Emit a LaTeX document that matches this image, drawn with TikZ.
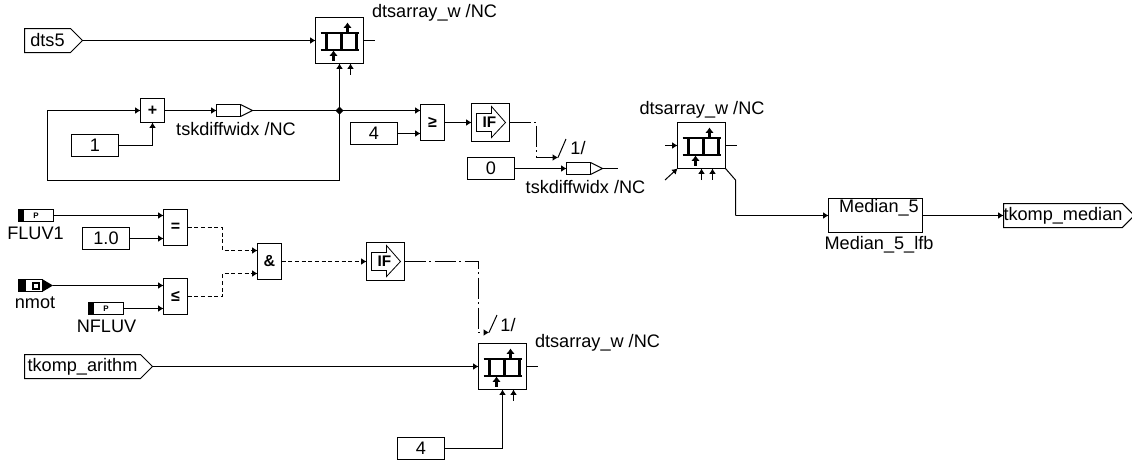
\documentclass[tikz,border=0pt]{standalone}
\usepackage{fontspec}
\setmainfont{Liberation Sans}
\usetikzlibrary{arrows.meta,shapes.symbols,positioning,calc}
\tikzset{
  every node/.append style={outer sep=0pt},
  wire/.style={line width=0.75pt},
  sig/.style={wire,-{Latex[length=4pt,width=5pt]}},
  ctrl/.style={line width=0.75pt,dash pattern=on 16pt off 2.5pt on 1.5pt off 2.5pt,-{Latex[length=4pt,width=5pt]}},
  logic/.style={line width=0.75pt,dash pattern=on 3pt off 2pt,-{Latex[length=4pt,width=5pt]}},
  lbl/.style={font=\fontsize{13.6}{15}\selectfont,inner sep=0pt},
  constbox/.style={draw,line width=0.75pt,inner sep=0pt,anchor=north west,minimum width=35.25pt,minimum height=16.5pt,font=\fontsize{13.6}{15}\selectfont},
  opbox/.style={draw,line width=0.75pt,inner sep=0pt,anchor=north west,minimum width=18pt,minimum height=27pt,font=\fontsize{12}{13}\selectfont\bfseries},
  portbox/.style={draw,line width=0.75pt,signal,signal to=east,signal from=nowhere,signal pointer angle=90,inner sep=0pt,anchor=west,minimum height=18pt,font=\fontsize{13.6}{15}\selectfont},
}
\begin{document}
\begin{tikzpicture}[x=0.75pt,y=-0.75pt]
\useasboundingbox (0,0) rectangle (1132,461);
% array blocks
\foreach \n/\x/\y in {arra/315.5/17.5,arrb/677.5/122.5,arrc/478.5/343.5} {
  \node[draw,line width=0.75pt,inner sep=0pt,anchor=north west,minimum width=36pt,minimum height=34.5pt] (\n) at (\x,\y) {};
  \begin{scope}[shift={(\x,\y)}]
    \draw[line width=1.5pt] (5,15) -- (43,15) (5,32) -- (43,32);
    \draw[line width=1.9pt] (11,15) -- (11,32) (26,15) -- (26,32) (41,15) -- (41,32);
    \draw[line width=1.6pt,-{Latex[length=4pt,width=6.5pt]}] (32,15) -- (32,5);
    \draw[line width=1.6pt,-{Latex[length=4pt,width=6.5pt]}] (18,43) -- (18,33);
  \end{scope}
  \coordinate (\n-out) at ($(\n.east)+(11,0)$);
  \coordinate (\n-stub) at ($(\n.south)+(11,11)$);
  \draw[wire] (\n.east) -- (\n-out);
  \draw[sig] (\n-stub) -- (\n-stub |- \n.south);
}
% IF blocks
\foreach \n/\x/\y in {ifa/471.5/103.5,ifb/366.5/242.5} {
  \node[draw,line width=0.75pt,inner sep=0pt,anchor=north west,minimum width=28.5pt,minimum height=28.5pt] (\n) at (\x,\y) {};
  \begin{scope}[shift={(\x,\y)}]
    \draw[line width=0.6pt] (5,10) -- (20,10) -- (20,3) -- (34,19) -- (20,34) -- (20,28) -- (5,28) -- cycle;
    \node[font=\fontsize{11.5}{12}\selectfont\bfseries,inner sep=0pt] (\n-txt) at (18,19) {IF};
  \end{scope}
}
% tunable parameters
\foreach \n/\x/\y in {fluv/18.5/209.5,nfluv/88.5/302.5} {
  \node[draw,line width=0.75pt,inner sep=0pt,anchor=north west,minimum width=26.25pt,minimum height=9pt,font=\fontsize{6}{6}\selectfont\bfseries] (\n) at (\x,\y) {P};
  \fill (\x,\y) rectangle ++(5,12);
}
\node[lbl] (fluvlbl) at (35.5,233) {FLUV1};
\node[lbl] (nfluvlbl) at (106.5,326) {NFLUV};
% measured input
\node[draw,line width=0.75pt,inner sep=0pt,anchor=north west,minimum width=18pt,minimum height=9pt] (nmot) at (18.5,279.5) {};
\fill (18.5,279.5) rectangle ++(7,12);
\fill (42,279) -- (53,285.5) -- (42,292) -- cycle;
\fill (32,281.5) rectangle ++(8,8);
\fill[white] (34,283.5) rectangle ++(4,4);
\coordinate (nmottip) at (53,285.5);
\node[lbl] (nmotlbl) at (35,303) {nmot};
% ports
\node[portbox,minimum width=43.5pt] (dtsfive) at (24.5,40.5) {dts5};
\node[portbox,minimum width=96pt] (arithm) at (24.5,366.5) {tkomp\_arithm};
\node[portbox,minimum width=90pt] (median) at (1003.5,215.5) {tkomp\_median};
% constants
\node[constbox] (cone) at (71.5,134.5) {1};
\node[constbox] (cfour) at (350.5,122.5) {4};
\node[constbox] (czero) at (467.5,157.5) {0};
\node[constbox] (cval) at (82.5,227.5) {1.0};
\node[constbox] (cfourb) at (397.5,437.5) {4};
% operators
\node[opbox,minimum height=18pt] (sum) at (140.5,98.5) {+};
\node[opbox] (geq) at (420.5,104.5) {≥};
\node[opbox] (eq) at (163.5,209.5) {=};
\node[opbox] (leq) at (163.5,278.5) {≤};
\node[opbox] (andop) at (257.5,243.5) {\&};
% variable writes
\foreach \n/\x/\y in {vara/216.5/104.5,varb/566.5/162.5} {
  \node[draw,line width=0.75pt,inner sep=0pt,anchor=north west,minimum width=18pt,minimum height=9pt] (\n) at (\x,\y) {};
  \coordinate (\n-tip) at ($(\n.east)+(12,0)$);
  \draw[wire] (\n.north east) -- (\n-tip) -- (\n.south east);
}
% median block
\node[draw,line width=0.75pt,inner sep=0pt,anchor=north west,minimum width=70.5pt,minimum height=25.5pt] (medbox) at (828.5,198.5) {};
\node[lbl] (medtxt) at (879,208) {Median\_5};
\node[lbl] (medlbl) at (879,245) {Median\_5\_lfb};
% labels
\node[lbl] (lbla) at (434.5,13) {dtsarray\_w /NC};
\node[lbl] (lblb) at (702,110) {dtsarray\_w /NC};
\node[lbl] (lblc) at (597.5,343) {dtsarray\_w /NC};
\node[lbl] (lblva) at (236,129) {tskdiffwidx /NC};
\node[lbl] (lblvb) at (585.5,187) {tskdiffwidx /NC};
% top row
\coordinate (junc) at (339.5,110.5);
\fill (junc) ++(-4,0) -- ++(4,-4) -- ++(4,4) -- ++(-4,4) -- cycle;
\draw[sig] (dtsfive.east) -- (dtsfive.east -| arra.west);
\draw[sig] (junc) -- (junc |- arra.south);
\draw[sig] (sum.east) -- (vara.west);
\draw[wire] (vara-tip) -- (junc);
\draw[sig] (junc) -- (junc -| geq.west);
\draw[sig] (junc) -- (339.5,180.5) -| (47.5,110.5) -- (sum.west);
\draw[sig] (cone.east) -| (sum.south);
\draw[sig] (cfour.east) -- (cfour.east -| geq.west);
\draw[sig] (geq.east) -- (geq.east -| ifa.west);
\coordinate (ena) at (558,157.5);
\coordinate (enatop) at (566,139);
\draw[ctrl] (ifa.east) -- ++(27,0) |- (ena);
\draw[wire] (ena) -- (enatop);
\node[lbl] (enalbl) at (578,148) {1/};
\draw[sig] (czero.east) -- (varb.west);
\coordinate (varbend) at (618,168.5);
\draw[wire] (varb-tip) -- (varbend);
% second array block and median
\coordinate (arrbin) at (665,145.5);
\coordinate (arrbdiag) at (665,180);
\draw[sig] (arrbin) -- (arrbin -| arrb.west);
\draw[sig] (arrbdiag) -- (arrb.south west);
\coordinate (arrbstubb) at (701.5,180);
\draw[sig] (arrbstubb) -- (arrbstubb |- arrb.south);
\draw[wire] (arrb.south east) -- (735.5,180) -- (735.5,215.5);
\draw[sig] (735.5,215.5) -- (medbox.west);
\draw[sig] (medbox.east) -- (medbox.east -| median.west);
% lower row
\draw[sig] (fluv.east) -- (fluv.east -| eq.west);
\draw[sig] (cval.east) -- (cval.east -| eq.west);
\draw[sig] (nmottip) -- (nmottip -| leq.west);
\draw[sig] (nfluv.east) -- (nfluv.east -| leq.west);
\coordinate (anda) at (257.5,250.5);
\coordinate (andb) at (257.5,273.5);
\draw[logic] (eq.east) -- ++(35,0) |- (anda);
\draw[logic] (leq.east) -- ++(35,0) |- (andb);
\draw[logic] (andop.east) -- (andop.east -| ifb.west);
\coordinate (enb) at (489,332.5);
\coordinate (enbtop) at (497,315);
\draw[ctrl] (ifb.east) -- ++(74,0) |- (enb);
\draw[wire] (enb) -- (enbtop);
\node[lbl] (enblbl) at (508,325) {1/};
\draw[sig] (arithm.east) -- (arithm.east -| arrc.west);
\draw[sig] (cfourb.east) -| (arrc.south);
\end{tikzpicture}
\end{document}
